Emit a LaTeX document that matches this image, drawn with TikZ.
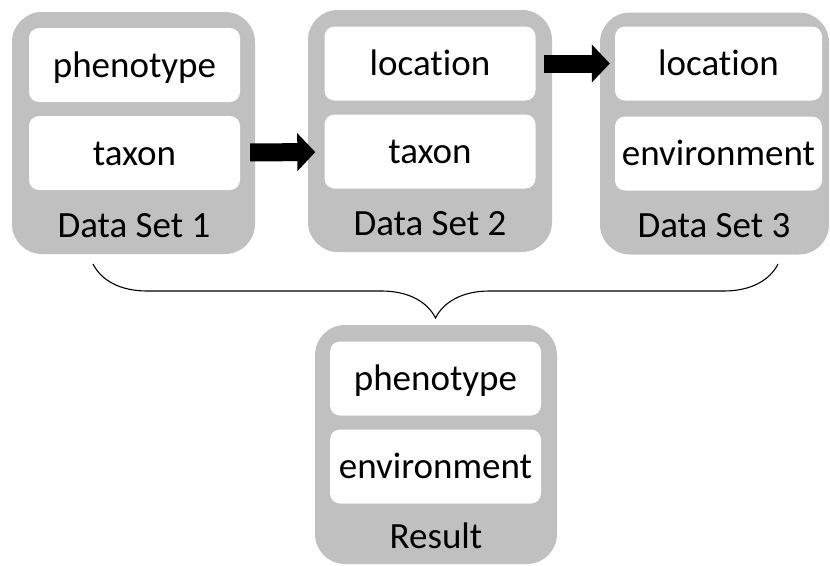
\documentclass[tikz,border=0pt]{standalone}
\usepackage{fontspec}
\setmainfont{Carlito}[Ligatures=NoCommon]
\usetikzlibrary{arrows.meta,decorations.pathreplacing,positioning}

\definecolor{setgray}{HTML}{C0C0C0}

\tikzset{
    setbox/.style={fill=setgray, rounded corners=30pt, minimum height=242pt, inner sep=0pt},
    field/.style={fill=white, rounded corners=10pt, minimum width=211pt, minimum height=74pt,
                  inner sep=0pt, text height=27pt, text depth=3pt, font=\fontsize{37}{40}\selectfont},
    setlabel/.style={anchor=base, font=\fontsize{37}{40}\selectfont},
    fatarrow/.style={line width=18pt, -{Triangle[length=18pt,width=37pt]}},
    brace/.style={decorate, decoration={brace, amplitude=54pt}, line width=1.1pt}
}

\begin{document}
\begin{tikzpicture}[x=1pt, y=-1pt]
    \useasboundingbox (0,0) rectangle (830,565);

    % grey data set boxes
    \node[setbox, minimum width=243pt] (ds1) at (133.5,133) {};
    \node[setbox, minimum width=244pt] (ds2) at (430,131) {};
    \node[setbox, minimum width=229pt] (ds3) at (714.5,133.5) {};
    \node[setbox, minimum width=242pt, minimum height=239pt] (res) at (436,444.5) {};

    % fields
    \node[field] (phen1) at (134.5,65) {phenotype};
    \node[field] (tax1) at (134.5,153) {taxon};
    \node[field] (loc2) at (430,63.5) {location};
    \node[field] (tax2) at (430,151.5) {taxon};
    \node[field, minimum width=207pt] (loc3) at (718.5,63.5) {location};
    \node[field, minimum width=207pt] (env3) at (718.5,153.5) {environment};
    \node[field] (phen4) at (435.5,378.5) {phenotype};
    \node[field] (env4) at (435.5,466.5) {environment};

    \foreach \x/\y/\t [count=\i] in {134/237/Data Set 1, 430/235/Data Set 2, 714/237/Data Set 3, 436/548/Result} {
        \node[setlabel] (lab\i) at (\x,\y) {\t};
    }

    % joins
    \draw[fatarrow, shorten <=10pt, shorten >=9pt] (tax1) -- (tax2);
    \draw[fatarrow, shorten <=8pt, shorten >=5pt] (loc2) -- (loc3);

    \coordinate (bl) at (93,264);
    \coordinate (br) at (778,264);
    \draw[brace] (br) -- (bl);
\end{tikzpicture}
\end{document}
